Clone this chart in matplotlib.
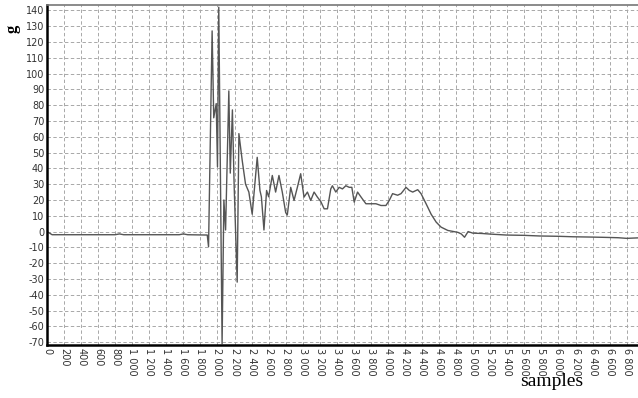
import matplotlib
matplotlib.use('Agg')
import matplotlib.pyplot as plt
from matplotlib.ticker import FuncFormatter, MultipleLocator

plt.rcParams['axes.unicode_minus'] = False

# values
samples = [0, 60, 800, 850, 900, 1550, 1600, 1650, 1880, 1895,
           1937, 1956, 1985, 2000, 2015, 2054, 2075, 2095, 2133, 2150,
           2175, 2195, 2231, 2251, 2290, 2329, 2368, 2407, 2466, 2498,
           2515, 2545, 2576, 2600, 2643, 2682, 2721, 2760, 2800, 2819,
           2859, 2898, 2937, 2976, 3015, 3055, 3094, 3133, 3172, 3212,
           3251, 3290, 3329, 3348, 3388, 3427, 3466, 3506, 3545, 3576,
           3604, 3643, 3682, 3741, 3800, 3859, 3918, 3976, 4015, 4054,
           4113, 4153, 4212, 4251, 4290, 4349, 4388, 4447, 4506, 4565,
           4623, 4702, 4820, 4860, 4898, 4940, 4995, 5100, 5200, 5388,
           5600, 5780, 6000, 6172, 6400, 6564, 6700, 6800, 6930]
g = [0, -2, -2, -1.5, -2, -2, -1.5, -2, -2.2, -9.6,
     127, 72, 81, 41, 142, -71, 20, 1, 89, 37,
     77, 30, -32, 62, 45, 30, 25, 11, 47, 26,
     22, 1, 26, 22, 35.5, 25, 35.5, 25, 12, 10.5,
     28, 19.7, 28, 36.6, 21.8, 25, 19.7, 25, 21.8, 19,
     14.4, 14.4, 27, 29, 25, 28, 27, 29, 28, 28,
     18.6, 25, 22, 17.6, 17.6, 17.6, 16.5, 16.5, 19.7, 24,
     23, 24, 28, 26, 25, 26.5, 24, 17.6, 11, 6,
     2.8, 0.7, -0.5, -1.5, -3.6, 0, -1, -1.2, -1.6, -2.2,
     -2.4, -2.8, -3.0, -3.3, -3.5, -3.7, -3.9, -4.3, -4]

fig = plt.figure(figsize=(6.38, 3.98), dpi=100)
ax = fig.add_axes([47 / 638, 1 - 345 / 398, 1 - 47 / 638, (345 - 5) / 398])

ax.plot(samples, g, color='#555555', lw=1.0)

ax.set_xlim(0, 6933)
ax.set_ylim(-71.8, 143.4)
ax.xaxis.set_major_locator(MultipleLocator(200))
ax.yaxis.set_major_locator(MultipleLocator(10))


def thousands(v, pos):
    return f"{int(v):,}".replace(',', ' ')


ax.xaxis.set_major_formatter(FuncFormatter(thousands))
ax.grid(True, color='#a8a8a8', ls=(0, (3.5, 2.5)), lw=0.7)
ax.tick_params(axis='both', length=0, labelsize=7, colors='#333333', pad=2)
for lab in ax.get_xticklabels():
    lab.set_rotation(-90)

ax.spines['right'].set_visible(False)
ax.spines['left'].set_linewidth(1.8)
ax.spines['bottom'].set_linewidth(1.8)
ax.spines['top'].set_linewidth(1.2)
ax.spines['top'].set_color('#777777')

fig.text(13 / 638, 1 - 29 / 398, 'g', rotation=90, ha='center', va='center',
         family='Liberation Serif', fontsize=12, fontweight='bold')
fig.text(552 / 638, 1 - 382 / 398, 'samples', ha='center', va='center',
         family='Liberation Serif', fontsize=14)

fig.savefig('out.png', dpi=100)
